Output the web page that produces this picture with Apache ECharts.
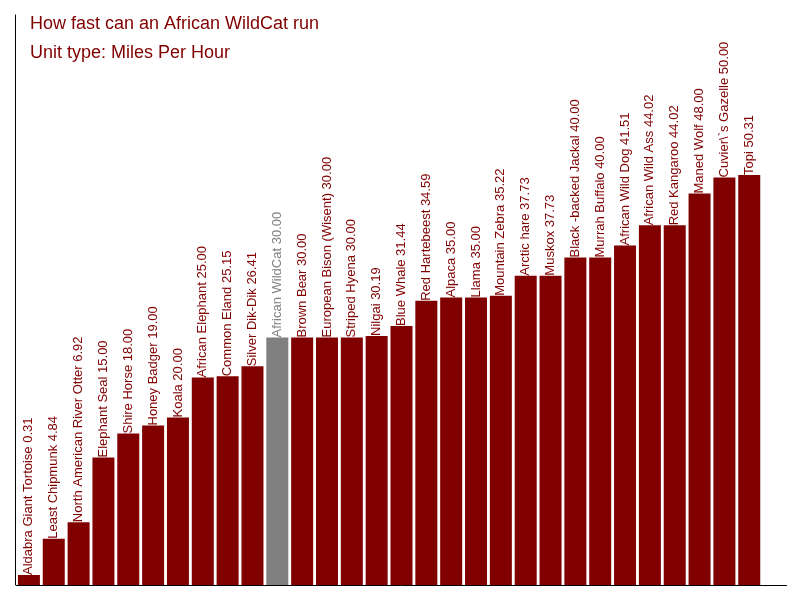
<!DOCTYPE html>
<html>
<head>
<meta charset="utf-8">
<script src="https://cdn.jsdelivr.net/npm/echarts@6/dist/echarts.min.js"></script>
<style>html,body{margin:0;padding:0;background:#fff}#c{width:800px;height:600px}</style>
</head>
<body>
<div id="c"></div>
<script>
var animals = ["Aldabra Giant Tortoise","Least Chipmunk","North American River Otter","Elephant Seal","Shire Horse","Honey Badger","Koala","African Elephant","Common Eland","Silver Dik-Dik","African WildCat","Brown Bear","European Bison (Wisent)","Striped Hyena","Nilgai","Blue Whale","Red Hartebeest","Alpaca","Llama","Mountain Zebra","Arctic hare","Muskox","Black -backed Jackal","Murrah Buffalo","African Wild Dog","African Wild Ass","Red Kangaroo","Maned Wolf","Cuvier\\`s Gazelle","Topi"];
var speeds = [0.31,4.84,6.92,15.00,18.00,19.00,20.00,25.00,25.15,26.41,30.00,30.00,30.00,30.00,30.19,31.44,34.59,35.00,35.00,35.22,37.73,37.73,40.00,40.00,41.51,44.02,44.02,48.00,50.00,50.31];
var highlight = "African WildCat";
var titleText = "How fast can an African WildCat run";
var subText = "Unit type: Miles Per Hour";

var RED = '#800000', GRAY = '#808080';
var data = speeds.map(function (v, i) {
  var hl = animals[i] === highlight;
  return {
    value: v,
    itemStyle: { color: hl ? GRAY : RED },
    label: { color: hl ? GRAY : RED }
  };
});

var chart = echarts.init(document.getElementById('c'));
chart.setOption({
  animation: false,
  backgroundColor: '#fff',
  title: {
    text: titleText,
    subtext: subText,
    left: 25, top: 10,
    itemGap: 11,
    textStyle: { color: RED, fontSize: 18, fontWeight: 'normal', fontFamily: 'Liberation Sans, Arial, sans-serif' },
    subtextStyle: { color: RED, fontSize: 18, fontFamily: 'Liberation Sans, Arial, sans-serif' }
  },
  grid: { left: 16.5, right: 13.5, top: 15, bottom: 15, containLabel: false },
  xAxis: {
    type: 'category',
    data: animals,
    max: animals.length,
    axisLine: { show: true, onZero: false, lineStyle: { color: '#000', width: 1 } },
    axisTick: { show: false },
    axisLabel: { show: false },
    splitLine: { show: false }
  },
  yAxis: {
    type: 'value',
    min: -0.9375,
    max: 70.3125,
    startValue: -0.9375,
    offset: 1,
    axisLine: { show: true, onZero: false, lineStyle: { color: '#000', width: 1 } },
    axisTick: { show: false },
    axisLabel: { show: false },
    splitLine: { show: false }
  },
  series: [{
    type: 'bar',
    data: data,
    barWidth: 22,
    label: {
      show: true,
      position: 'top',
      rotate: 90,
      align: 'left',
      verticalAlign: 'middle',
      distance: 0,
      fontSize: 13,
      fontFamily: 'Liberation Sans, Arial, sans-serif',
      formatter: function (p) { return p.name + ' ' + p.value.toFixed(2); }
    }
  }]
});
</script>
</body>
</html>
